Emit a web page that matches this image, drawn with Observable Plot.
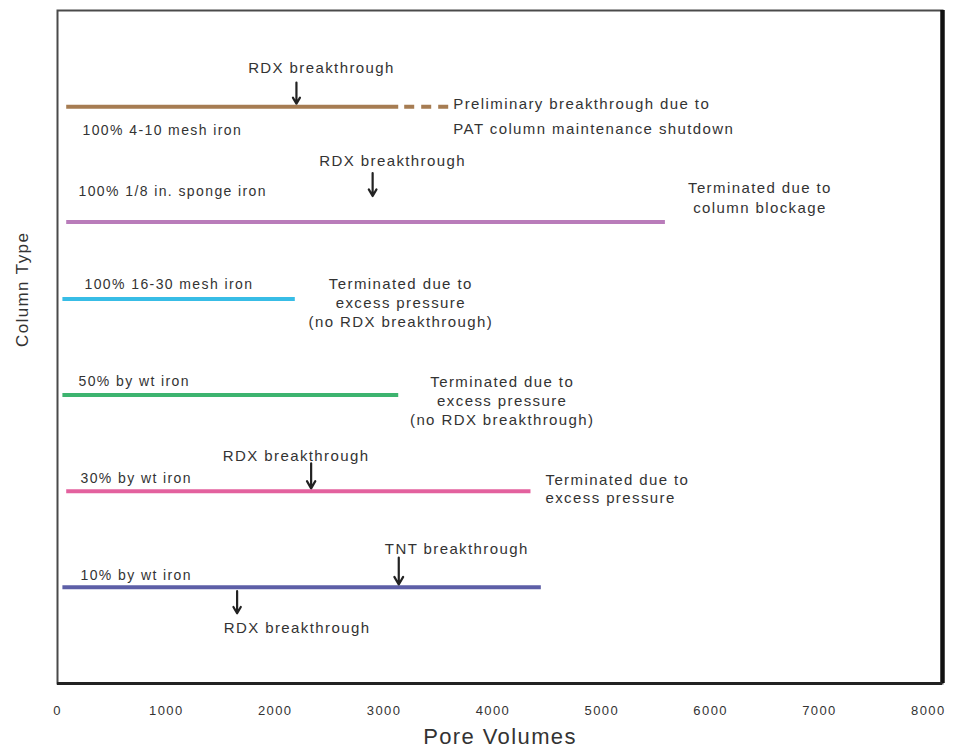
<!DOCTYPE html>
<html>
<head>
<meta charset="utf-8">
<script src="https://cdn.jsdelivr.net/npm/d3@7"></script>
<script src="https://cdn.jsdelivr.net/npm/@observablehq/plot@0.6"></script>
<style>
  html, body { margin: 0; padding: 0; background: #fff; }
  #chart svg text { letter-spacing: 1.4px; }
</style>
</head>
<body>
<div id="chart"></div>
<script>
// ---- data ----
const columnTypes = ["100% 4-10 mesh iron", "100% 1/8 in. sponge iron", "100% 16-30 mesh iron", "50% by wt iron", "30% by wt iron", "10% by wt iron"];
const columnRows = [6, 4.8, 4, 3, 2, 1];
const runStart = [80, 80, 45, 45, 80, 45];
const runEnd = [3130, 5580, 2180, 3130, 4345, 4440];
const columnColors = ["#a67c52", "#b97cba", "#38bde6", "#3db46f", "#e3619e", "#5d5fa7"];

// interrupted (dashed) continuation of the first column
const dashedColumn = [0];
const dashedStart = [3185];
const dashedEnd = [3590];

// breakthrough events
const eventColumn = [0, 1, 4, 5, 5];
const eventPV = [2195, 2895, 2330, 3135, 1650];
const eventLabel = ["RDX breakthrough", "RDX breakthrough", "RDX breakthrough", "TNT breakthrough", "RDX breakthrough"];

// end-of-run notes
const noteColumn = [0, 1, 2, 3, 4];
const noteText = [
  "Preliminary breakthrough due to\nPAT column maintenance shutdown",
  "Terminated due to\ncolumn blockage",
  "Terminated due to\nexcess pressure\n(no RDX breakthrough)",
  "Terminated due to\nexcess pressure\n(no RDX breakthrough)",
  "Terminated due to\nexcess pressure"
];

const xTicks = [0, 1000, 2000, 3000, 4000, 5000, 6000, 7000, 8000];
const xLabel = "Pore Volumes";
const yLabel = "Column Type";

// ---- layout (styling only) ----
const xMax = 8130, yMax = 7;
const colLabelDy = [24, -30, -14, -14, -13, -12];
const colLabelDx = [25, 21, 27, 21, 23, 23];
const eventLayout = [
  {a: 0.25, b: 0.03, t: 0.40, dx: 25},
  {a: 0.51, b: 0.27, t: 0.63, dx: 20},
  {a: 0.29, b: 0.03, t: 0.36, dx: -15},
  {a: 0.31, b: 0.03, t: 0.40, dx: 58},
  {a: -0.04, b: -0.27, t: -0.42, dx: 60}
];
const noteLayout = [
  {anchor: "start", dx: 5, dy: 7, lh: 1.65, useDashed: true},
  {anchor: "middle", dx: 95, dy: -25, lh: 1.33},
  {anchor: "middle", dx: 106, dy: 3, lh: 1.25},
  {anchor: "middle", dx: 104, dy: 5, lh: 1.28},
  {anchor: "start", dx: 15, dy: -3, lh: 1.2}
];

// ---- tables ----
const runs = columnTypes.map((name, i) => ({name, row: columnRows[i], x1: runStart[i], x2: runEnd[i], color: columnColors[i]}));
const dashed = dashedColumn.map((c, i) => ({row: columnRows[c], x1: dashedStart[i], x2: dashedEnd[i], color: columnColors[c]}));
const events = eventColumn.map((c, i) => ({row: columnRows[c], pv: eventPV[i], label: eventLabel[i], ...eventLayout[i]}));

const labelMarks = runs.map((r, i) => Plot.text([r], {
  x: () => 0, y: "row", text: "name", textAnchor: "start",
  dx: colLabelDx[i], dy: colLabelDy[i], fontSize: 14, fill: "#333"
}));

const noteMarks = noteColumn.map((c, i) => {
  const L = noteLayout[i];
  const dIdx = dashedColumn.indexOf(c);
  const xEnd = L.useDashed && dIdx >= 0 ? dashedEnd[dIdx] : runEnd[c];
  return Plot.text([{x: xEnd, y: columnRows[c], t: noteText[i]}], {
    x: "x", y: "y", text: "t", textAnchor: L.anchor, dx: L.dx, dy: L.dy,
    lineHeight: L.lh, fontSize: 15, fill: "#333"
  });
});

const chart = Plot.plot({
  width: 953,
  height: 755,
  marginLeft: 57,
  marginRight: 11,
  marginTop: 10,
  marginBottom: 72,
  style: {fontFamily: "'Liberation Sans', Arial, sans-serif", fontSize: "15px", background: "#fff"},
  x: {domain: [0, xMax], axis: null},
  y: {domain: [0, yMax], axis: null},
  marks: [
    Plot.axisX({ticks: xTicks, tickSize: 0, tickPadding: 22, tickFormat: d => String(d), fontSize: 13, fill: "#333", label: null}),
    Plot.frame({stroke: "#4a4a4a", strokeWidth: 2}),
    Plot.ruleX([xMax], {stroke: "#111", strokeWidth: 4.5}),
    Plot.ruleY([0], {stroke: "#222", strokeWidth: 3}),
    Plot.link(runs, {x1: "x1", x2: "x2", y1: "row", y2: "row", stroke: "color", strokeWidth: 4}),
    Plot.link(dashed, {x1: "x1", x2: "x2", y1: "row", y2: "row", stroke: "color", strokeWidth: 4, strokeDasharray: "10,7"}),
    ...labelMarks,
    ...events.map(e => Plot.arrow([e], {x1: "pv", x2: "pv", y1: d => d.row + d.a, y2: d => d.row + d.b, stroke: "#222", strokeWidth: 2.2, headLength: 6})),
    ...events.map(e => Plot.text([e], {x: "pv", y: d => d.row + d.t, text: "label", dx: e.dx, fontSize: 15, fill: "#333"})),
    ...noteMarks,
    Plot.text([xLabel], {frameAnchor: "bottom", dy: 60, fontSize: 22, fill: "#333"}),
    Plot.text([yLabel], {frameAnchor: "left", dx: -35, rotate: -90, fontSize: 17, fill: "#333"})
  ]
});
document.getElementById("chart").appendChild(chart);
</script>
</body>
</html>
